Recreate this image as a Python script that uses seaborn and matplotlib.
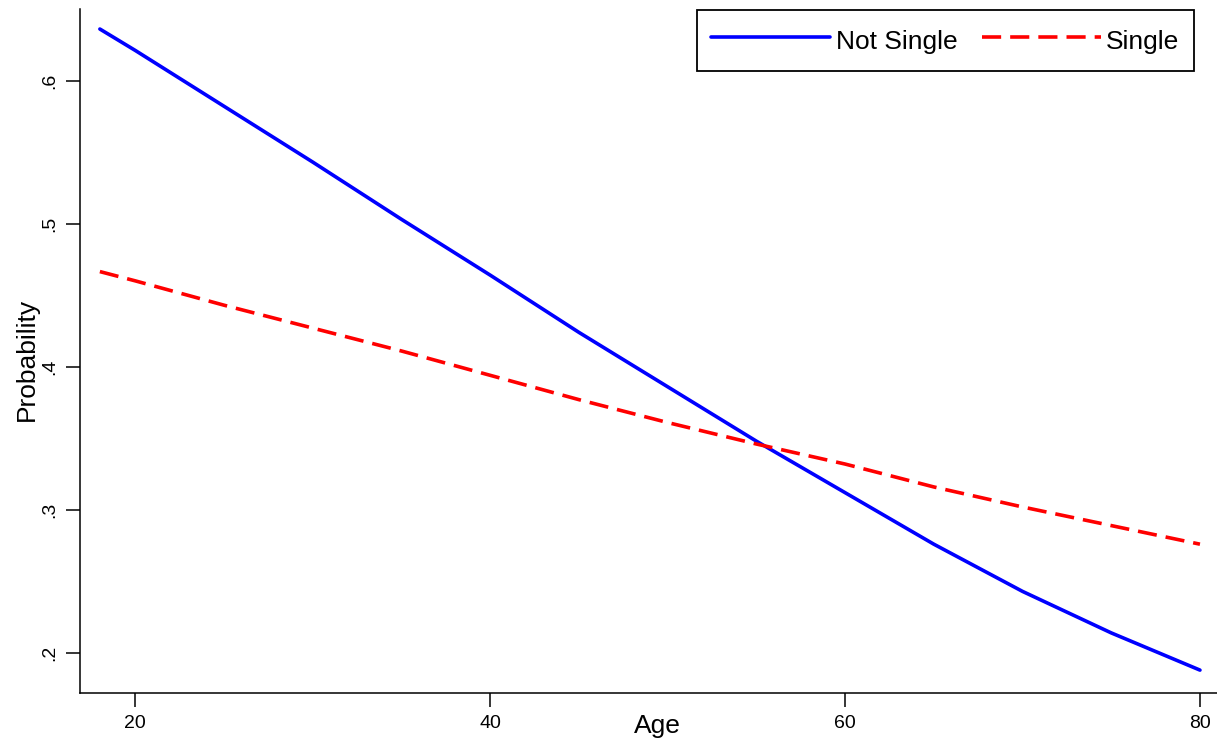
import matplotlib.pyplot as plt
from matplotlib.ticker import FuncFormatter
import seaborn as sns
import pandas as pd


# values
AGES = [18, 20, 25, 30, 35, 40, 45, 50, 55, 60, 65, 70, 75, 80]
NOT_SINGLE = [0.636, 0.621, 0.582, 0.543, 0.503, 0.464, 0.424, 0.386,
              0.348, 0.312, 0.276, 0.243, 0.214, 0.188]
SINGLE = [0.4665, 0.460, 0.443, 0.427, 0.411, 0.394, 0.377, 0.361,
          0.346, 0.332, 0.316, 0.302, 0.289, 0.276]
GROUPS = ["Not Single", "Single"]
X_TICKS = [20, 40, 60, 80]
Y_TICKS = [0.2, 0.3, 0.4, 0.5, 0.6]


def _long_df():
    rows = []
    for grp, vals in zip(GROUPS, [NOT_SINGLE, SINGLE]):
        for a, v in zip(AGES, vals):
            rows.append({"Age": a, "Probability": v, "group": grp})
    return pd.DataFrame(rows)


sns.set_style("ticks")
plt.rcParams["font.family"] = ["Liberation Sans", "DejaVu Sans"]
plt.rcParams["text.color"] = "black"

df = _long_df()

fig = plt.figure(figsize=(12.17, 7.45), dpi=100)
ax = fig.add_axes([80 / 1217, 52 / 745, 1137 / 1217, 684 / 745])

lw = 2.6
sns.lineplot(data=df, x="Age", y="Probability", hue="group", style="group",
             palette={"Not Single": "#0000ff", "Single": "#ff0000"},
             dashes={"Not Single": "", "Single": (5.3, 2.5)},
             linewidth=lw, ax=ax)

ax.set_xlim(16.88, 80.96)
ax.set_ylim(0.172, 0.650)
ax.set_xticks(X_TICKS)
ax.set_yticks(Y_TICKS)
ax.yaxis.set_major_formatter(FuncFormatter(lambda v, _: f"{v:.1f}".lstrip("0")))

for side in ["top", "right"]:
    ax.spines[side].set_visible(False)
for side in ["left", "bottom"]:
    ax.spines[side].set_color("black")
    ax.spines[side].set_linewidth(1.1)

ax.tick_params(axis="both", length=10, width=1.1, color="black",
               labelsize=14, labelcolor="black")
ax.tick_params(axis="x", pad=6)
ax.tick_params(axis="y", pad=6, labelrotation=90)
for lbl in ax.get_yticklabels():
    lbl.set_va("center")

ax.set_xlabel("Age", fontsize=19, color="black")
ax.set_ylabel("Probability", fontsize=19, color="black")
ax.xaxis.set_label_coords(0.508, -0.0307)
ax.yaxis.set_label_coords(-0.0365, 0.487)

handles, labels = ax.get_legend_handles_labels()
leg = ax.legend(handles, labels, ncol=2, fontsize=19, loc="upper right",
                bbox_to_anchor=(1194 / 1217, 1 - 9.6 / 745),
                bbox_transform=fig.transFigure,
                handlelength=4.5, handleheight=1.5, handletextpad=0.2,
                columnspacing=0.95, borderpad=0.55, borderaxespad=0,
                fancybox=False, framealpha=1, edgecolor="black")
leg.get_frame().set_linewidth(1.3)
for t in leg.get_texts():
    t.set_color("black")

fig.savefig("out.png", dpi=100)
plt.close(fig)
